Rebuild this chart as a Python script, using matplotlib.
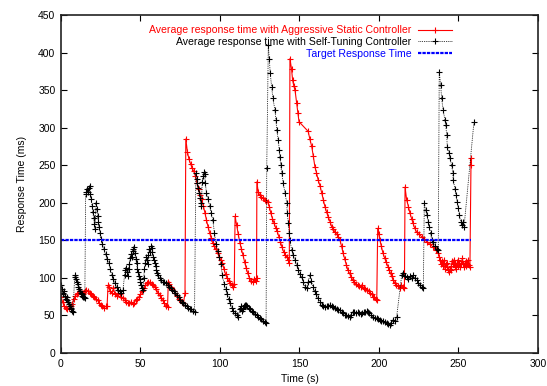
import matplotlib
matplotlib.use("Agg")
import matplotlib.pyplot as plt

# Average response time with Aggressive Static Controller: (time s, ms)
static_pts = [
    (0, 75), (1, 68), (2, 62), (3, 60), (4, 58), (5, 60), (6, 62), (7, 65), (8, 72), (9, 76),
    (10, 78), (11, 80), (12, 82), (13, 80), (14, 78), (15, 82), (16, 84), (17, 82), (18, 80),
    (19, 78), (20, 76), (21, 74), (22, 72), (23, 70), (24, 67), (25, 64), (26, 62), (27, 60),
    (28, 62), (29, 63), (29.6, 90), (30, 88), (31, 82), (32, 80), (33, 86), (34, 78), (35, 76),
    (36, 80), (37, 78), (38, 75), (39, 73), (40, 70), (41, 68), (42, 67), (43, 66), (44, 68),
    (45, 65), (46, 67), (47, 70), (48, 72), (49, 75), (50, 78), (51, 82), (52, 86), (53, 90),
    (54, 93), (55, 95), (56, 94), (57, 92), (58, 90), (59, 88), (60, 85), (61, 80), (62, 77),
    (63, 73), (64, 70), (65, 66), (66, 63), (67, 61), (67.5, 95), (68, 92), (69, 88), (70, 85),
    (71, 82), (72, 80), (73, 76), (74, 72), (75, 70), (76, 68), (77, 66), (78, 80),
    (78.5, 285), (79.5, 268), (80.5, 258), (81.5, 252), (82.5, 246), (83.5, 242), (84.5, 236),
    (85.5, 226), (86.5, 218), (87.5, 210), (88.5, 205), (89.5, 196), (90.5, 187), (91.5, 177),
    (92.5, 168), (93.5, 160), (94.5, 153), (95.5, 146), (96.5, 142), (97.5, 138), (98.5, 133),
    (99.5, 128), (100.5, 124), (101.5, 120), (102.5, 112), (103.5, 105), (104.5, 100),
    (105.5, 96), (106.5, 93), (107.5, 90), (108.5, 88), (109, 92),
    (109.5, 182), (110.5, 170), (111.5, 158), (112.5, 147), (113.5, 138), (114.5, 130),
    (115.5, 121), (116.5, 113), (117.5, 106), (118.5, 100), (119.5, 96), (120.5, 94),
    (121.5, 99), (122.5, 96), (123, 100),
    (123.2, 228), (124, 215), (125, 210), (126, 208), (127, 206), (128, 204), (129, 203),
    (130, 201), (131, 195), (132, 186), (133, 179), (134, 173), (135, 167), (136, 162),
    (137, 155), (138, 148), (139, 141), (140, 135), (141, 131), (142, 128), (143, 124),
    (143.6, 120),
    (144, 392), (145, 378), (145.7, 363), (146.5, 355), (147.2, 350), (148.2, 333), (149, 320),
    (149.7, 308), (155.5, 295), (156.5, 285), (157.7, 275), (158.7, 262), (159.7, 248),
    (160.7, 240), (161.8, 230), (163, 222), (164, 213), (165, 204), (166, 195), (167, 188),
    (168.1, 181), (169.2, 175), (170.3, 168), (171.3, 165), (172.3, 161), (173.4, 158),
    (174.4, 155), (175.5, 150), (176.5, 142), (177.4, 133), (178.5, 125), (179.5, 117),
    (180.5, 110), (181.5, 106), (182.5, 101), (183.6, 97), (184.5, 95), (185.5, 92),
    (186.5, 90), (187.5, 89), (188.5, 88), (189.5, 90), (190.5, 86), (191.5, 85), (192.3, 84),
    (193.5, 82), (194.5, 80), (195.5, 78), (196.2, 75), (197, 74), (198, 72), (198.6, 70),
    (199.2, 166), (200, 158), (200.6, 150), (201.5, 142), (202.5, 133), (203.5, 127),
    (204.5, 121), (205.7, 115), (206.5, 110), (207.3, 106), (208, 102), (209, 97), (210, 93),
    (211, 91), (212, 89), (213.2, 87), (214, 90), (215, 88), (216, 86),
    (216.4, 221), (217.4, 204), (218.5, 195), (219.5, 186), (220.5, 179), (221.4, 173),
    (222.5, 166), (223.7, 161), (225, 158), (226.9, 155), (228.5, 152), (230, 148), (232, 145),
    (234, 141), (236, 137), (237.3, 133), (238, 128), (238.5, 124), (239, 118), (239.5, 122),
    (240, 116), (240.5, 120), (241, 124), (241.5, 112), (242, 118), (242.5, 114), (243, 120),
    (243.5, 110), (244, 108), (244.5, 112), (245, 110), (245.5, 116), (246, 122), (246.5, 118),
    (247, 124), (247.5, 114), (248, 120), (248.5, 112), (249, 118), (249.5, 124), (250, 116),
    (250.5, 120), (251, 114), (251.5, 118), (252, 122), (252.5, 126), (253, 118), (253.5, 114),
    (254, 120), (254.5, 116), (255, 122), (255.5, 118), (256, 124), (256.5, 117), (257.2, 115),
    (257.9, 259), (258, 250),
]

# Average response time with Self-Tuning Controller: (time s, ms)
tuning_pts = [
    (0, 90), (0.5, 85), (1, 80), (1.5, 78), (2, 82), (2.5, 76), (3, 72), (3.5, 70), (4, 74),
    (4.5, 68), (5, 65), (5.5, 62), (6, 60), (6.5, 58), (7, 56), (7.5, 54),
    (8.6, 101), (9, 104), (9.5, 98), (10, 95), (10.5, 92), (11, 88), (11.5, 85), (12, 82),
    (12.5, 80), (13, 78), (13.5, 76), (14, 74), (14.5, 75), (15, 73),
    (15.5, 212), (16, 215), (16.5, 218), (17, 214), (17.5, 220), (18, 222), (18.5, 212),
    (19, 205), (19.5, 196), (20, 188), (20.5, 180), (21, 172), (21.5, 165),
    (22, 200), (22.5, 192), (23, 183), (23.5, 175), (24, 168), (24.5, 160), (25, 152),
    (26, 145), (27, 138), (28, 132), (29, 125), (30, 120), (31, 112), (32, 104), (33, 98),
    (34, 93), (35, 88), (36, 84), (37, 82), (38, 80), (39, 84), (40, 104), (40.5, 110),
    (41, 113), (41.5, 108), (42, 102), (42.5, 112), (43, 118), (43.5, 126), (44, 132),
    (44.5, 128), (45, 138), (45.5, 136), (46, 141), (46.5, 133), (47, 125), (47.5, 120),
    (48, 112), (48.5, 108), (49, 102), (49.5, 98), (50, 95), (50.5, 90), (51, 86), (51.5, 84),
    (52, 100), (52.5, 112), (53, 120), (53.5, 128), (54, 124), (54.5, 118), (55, 130),
    (55.5, 138), (56, 135), (56.5, 142), (57, 140), (57.5, 134), (58, 128), (58.5, 124),
    (59, 120), (59.5, 116), (60, 110), (60.5, 106), (61, 104), (62, 100), (63, 97), (64, 95),
    (65, 94), (66, 93), (67, 90), (68, 88), (69, 86), (70, 84), (71, 82), (72, 80), (73, 77),
    (74, 74), (75, 71), (76, 68), (77, 66), (78, 64), (79, 62), (80, 60), (81, 59), (82, 58),
    (83, 56), (84, 55),
    (84.8, 240), (85.3, 232), (85.8, 226), (86.3, 220), (86.8, 213), (87.3, 206), (87.8, 200),
    (88.3, 196), (88.8, 228), (89.3, 236), (89.8, 241), (90.3, 238), (90.8, 226), (91.5, 213),
    (92.5, 205), (93.5, 196), (94.5, 186), (95.5, 177), (96.5, 160), (97.5, 145), (98.5, 136),
    (99.5, 128), (100.5, 118), (101.5, 104), (102.5, 92), (103.5, 85), (104.5, 78),
    (105.5, 72), (106.5, 66), (107.5, 60), (108.5, 56), (109.5, 53), (110.5, 50), (111.5, 48),
    (112.5, 58), (113, 62), (113.5, 60), (114, 56), (114.5, 58), (115, 62), (115.5, 64),
    (116, 62), (116.5, 64), (117, 62), (118, 60), (119, 58), (120, 56), (121, 54), (122, 52),
    (123, 50), (124, 48), (125, 46), (126, 45), (127, 43), (128, 41), (129, 40),
    (129.4, 246), (130.4, 410), (131.0, 392), (131.6, 373), (132.5, 354), (133.3, 339),
    (134.6, 323), (135.2, 310), (135.7, 297), (136.7, 283), (137.3, 270), (137.7, 261),
    (138.2, 250), (138.8, 240), (139.8, 226), (140.9, 213), (142.0, 200), (142.3, 186),
    (143.0, 173), (143.6, 160), (144.0, 150), (145.1, 137), (146, 130), (147.2, 124),
    (148.2, 117), (149.2, 110), (150.3, 105), (151.4, 101), (152.5, 94), (153.5, 88),
    (154.5, 87), (155.5, 95), (156.6, 104), (157.5, 96), (158.5, 88), (159.5, 83), (160.5, 78),
    (161.8, 73), (163, 68), (164, 64), (165, 62), (166, 61), (167, 62), (168, 63), (169.2, 64),
    (170.3, 62), (171.3, 61), (172.3, 60), (173.5, 58), (174.5, 57), (175.5, 57), (176.5, 55),
    (177.4, 53), (178.5, 51), (179.5, 50), (180.5, 49), (181.8, 48), (182.7, 51), (183.6, 55),
    (184.5, 54), (185.5, 53), (186.5, 54), (187.5, 53), (188.5, 52), (189.5, 53), (190.5, 54),
    (191.5, 55), (192.3, 56), (193.1, 55), (194, 53), (195, 50), (196.2, 48), (197.5, 47),
    (198.5, 46), (199.5, 45), (200.6, 44), (201.5, 43), (202.5, 42), (203.5, 41), (204.8, 40),
    (205.8, 39), (206.9, 37), (207.8, 40), (208.8, 44), (209.8, 42), (211.1, 48),
    (214.3, 104), (215.1, 106), (216.2, 103), (217.4, 101), (218.5, 98), (219.5, 102),
    (220.5, 100), (221.4, 104), (222.5, 100), (223.7, 97), (224.7, 93), (225.8, 90),
    (226.8, 88), (227.9, 86),
    (228.5, 200), (229.3, 190), (230.2, 184), (231.0, 175), (231.6, 168), (232.5, 160),
    (233.1, 150), (234.0, 148), (235.2, 143), (236.3, 139), (237.3, 137),
    (237.9, 374), (238.8, 357), (239.4, 339), (240.4, 323), (241.5, 310), (242.0, 303),
    (242.6, 290), (243.0, 274), (244.2, 266), (244.7, 259), (245.7, 250), (246.4, 240),
    (246.7, 230), (247.8, 219), (248.4, 210), (249.2, 201), (249.9, 193), (250.5, 184),
    (251.4, 175), (252.0, 170), (253.0, 175), (253.5, 168), (259.7, 307),
]

# Target response time
target_t = [0, 258]
target_v = [150, 150]

x_ticks = [0, 50, 100, 150, 200, 250, 300]
y_ticks = [0, 50, 100, 150, 200, 250, 300, 350, 400, 450]

static_t, static_v = zip(*static_pts)
tuning_t, tuning_v = zip(*tuning_pts)

plt.rcParams['font.family'] = ['Liberation Sans', 'DejaVu Sans']
plt.rcParams['font.size'] = 7.5

fig = plt.figure(figsize=(5.47, 3.86), dpi=100)
ax = fig.add_axes([0.1115, 0.0855, 0.872, 0.8755])

ax.plot(static_t, static_v, color='#ff0000', lw=0.8, marker='+', ms=5, mew=0.8,
        label='Average response time with Aggressive Static Controller')
ax.plot(tuning_t, tuning_v, color='black', lw=0.6, ls=(0, (1, 1.2)), marker='+', ms=5, mew=0.8,
        label='Average response time with Self-Tuning Controller')
ax.plot(target_t, target_v, color='#0000ff', lw=1.6, ls=(0, (1.5, 0.5)),
        label='Target Response Time')

ax.set_xlim(0, 300)
ax.set_ylim(0, 450)
ax.set_xticks(x_ticks)
ax.set_yticks(y_ticks)
ax.tick_params(direction='in', length=4, width=0.8, top=True, right=True, pad=4)
for s in ax.spines.values():
    s.set_linewidth(1.2)
    s.set_color('#222222')

ax.set_xlabel('Time (s)', labelpad=4)
ax.set_ylabel('Response Time (ms)', labelpad=8)

leg = ax.legend(loc='upper right', bbox_to_anchor=(0.83, 0.985), frameon=False,
                markerfirst=False, labelcolor='linecolor', handlelength=3.2,
                handletextpad=0.6, labelspacing=0.15, borderpad=0, fontsize=7.6)

fig.savefig('out.png', dpi=100)
